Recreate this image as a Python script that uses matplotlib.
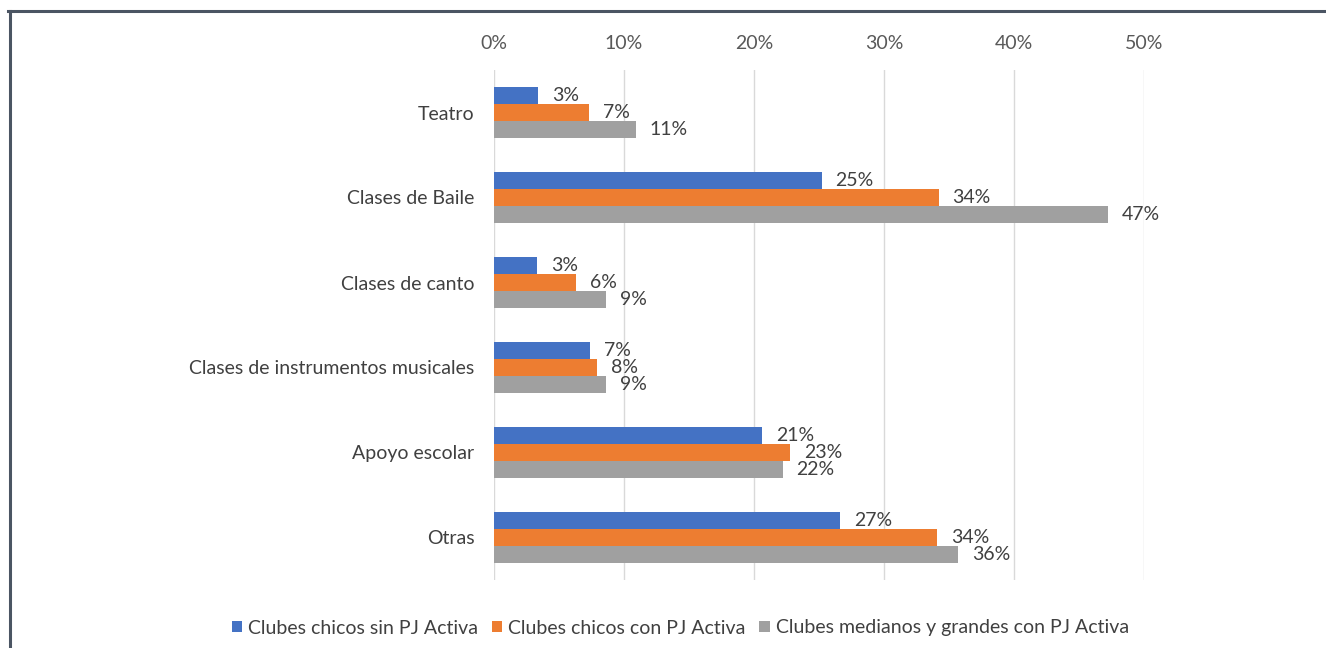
import matplotlib.pyplot as plt
import numpy as np
from matplotlib.lines import Line2D

plt.rcParams['font.family'] = ['Lato', 'DejaVu Sans']

categorias = ['Teatro', 'Clases de Baile', 'Clases de canto',
              'Clases de instrumentos musicales', 'Apoyo escolar', 'Otras']
series = ['Clubes chicos sin PJ Activa', 'Clubes chicos con PJ Activa',
          'Clubes medianos y grandes con PJ Activa']
sin_pj = [3.4, 25.2, 3.3, 7.4, 20.6, 26.6]
con_pj = [7.3, 34.2, 6.3, 7.9, 22.8, 34.1]
medianos = [10.9, 47.2, 8.6, 8.6, 22.2, 35.7]
colores = ['#4472C4', '#ED7D31', '#A0A0A0']
ticks = [0, 10, 20, 30, 40, 50]

fig = plt.figure(figsize=(13.26, 6.48), dpi=100)
ax = fig.add_axes([494 / 1326, 1 - 580 / 648, 650 / 1326, 510 / 648])

y = np.arange(len(categorias))
h = 0.2
for i, (vals, col, nom) in enumerate(zip([sin_pj, con_pj, medianos], colores, series)):
    bars = ax.barh(y + (i - 1) * h, vals, height=h, color=col, label=nom, zorder=2)
    ax.bar_label(bars, labels=['{:.0f}%'.format(v) for v in vals], padding=10,
                 fontsize=14, color='#404040', clip_on=False)

ax.set_xlim(0, 50)
ax.set_ylim(len(categorias) - 0.5, -0.5)
ax.set_yticks(y)
ax.set_yticklabels(categorias, fontsize=14, color='#404040')
ax.set_xticks(ticks)
ax.set_xticklabels(['{}%'.format(t) for t in ticks], fontsize=14, color='#595959')
ax.xaxis.tick_top()
ax.tick_params(axis='both', length=0)
ax.tick_params(axis='x', pad=13)
ax.tick_params(axis='y', pad=14)
ax.grid(axis='x', color='#d9d9d9', linewidth=1, zorder=0)
for s in ax.spines.values():
    s.set_visible(False)

leg = fig.legend(loc='center', bbox_to_anchor=(0.513, 1 - 628 / 648), ncol=3,
                 frameon=False, fontsize=14, handlelength=0.55, handleheight=0.55,
                 handletextpad=0.3, columnspacing=0.7, labelcolor='#404040')

# marco
fig.add_artist(Line2D([8 / 1326, 1], [1 - 11 / 648, 1 - 11 / 648],
                      color='#4b5563', linewidth=2.2, transform=fig.transFigure))
fig.add_artist(Line2D([9.5 / 1326, 9.5 / 1326], [0, 1 - 11 / 648],
                      color='#4b5563', linewidth=2.2, transform=fig.transFigure))

fig.savefig('out.png', dpi=100)
